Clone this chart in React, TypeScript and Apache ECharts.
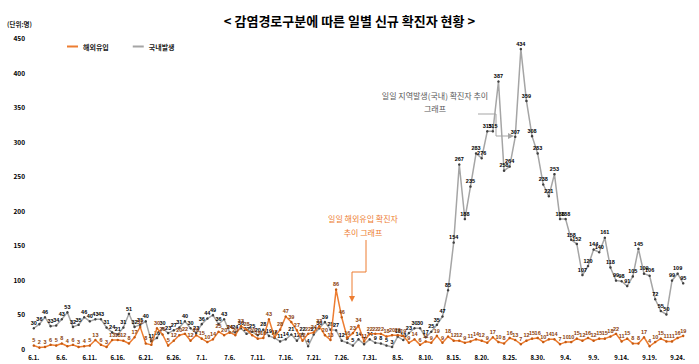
import React, { useEffect, useRef } from "react";
import * as echarts from "echarts";

const FONT = "'Noto Sans CJK KR', 'Liberation Sans', sans-serif";

// month, number of days shown
const months: [number, number][] = [
  [6, 30],
  [7, 31],
  [8, 31],
  [9, 25],
];
const categories: string[] = [];
months.forEach(([m, n]) => {
  for (let d = 1; d <= n; d++) categories.push(`${m}.${d}.`);
});

// 국내발생 (domestic)
const domestic = [
  // June
  30, 36, 46, 33, 34, 43, 53, 32, 35, 46, 40, 43, 43, 31, 24, 21, 31, 51, 32, 35,
  40, 11, 16, 30, 23, 27, 31, 40, 30, 23,
  // July
  36, 44, 49, 36, 43, 24, 24, 30, 22, 25, 20, 28, 19, 16, 11, 14, 21, 12, 22, 4,
  21, 30, 39, 28, 27, 12, 9, 5, 14, 7, 14,
  // August
  9, 8, 5, 3, 18, 13, 23, 30, 30, 17, 25, 35, 47, 85, 154, 267, 188, 235, 283, 276,
  315, 315, 387, 258, 264, 307, 434, 359, 308, 283, 238,
  // September
  221, 253, 188, 188, 158, 152, 107, 120, 144, 140, 161, 118, 99, 98, 91, 105, 145,
  109, 106, 72, 55, 50, 99, 109, 95,
];

// 해외유입 (imported)
const imported = [
  // June
  5, 2, 3, 6, 5, 8, 4, 6, 3, 4, 5, 13, 6, 3, 13, 13, 12, 8, 17, 32, 8, 6, 30, 21,
  5, 12, 20, 22, 12, 20,
  // July
  15, 10, 14, 25, 20, 24, 20, 33, 28, 20, 15, 16, 43, 17, 28, 47, 39, 27, 12, 22,
  24, 33, 20, 13, 86, 46, 16, 23, 34, 11, 22,
  // August
  22, 22, 18, 20, 20, 19, 9, 14, 6, 11, 9, 19, 9, 18, 12, 12, 9, 11, 14, 12, 9, 17,
  10, 8, 16, 13, 7, 12, 15, 16, 10,
  // September
  14, 14, 7, 10, 10, 15, 12, 16, 12, 15, 15, 18, 22, 11, 15, 8, 8, 17, 4, 10, 15,
  11, 11, 16, 19,
];

const ORANGE = "#ed7d31";
const GRAY = "#a5a5a5";

export default function App() {
  const ref = useRef<HTMLDivElement>(null);
  useEffect(() => {
    if (!ref.current) return;
    const chart = echarts.init(ref.current, undefined, { renderer: "svg" });
    chart.setOption({
      animation: false,
      backgroundColor: "#ffffff",
      textStyle: { fontFamily: FONT },
      title: {
        text: "< 감염경로구분에 따른 일별 신규 확진자 현황 >",
        left: "center",
        top: 9,
        textStyle: { fontSize: 13, fontWeight: "bold", color: "#000", fontFamily: FONT },
      },
      legend: {
        left: 62,
        top: 38,
        icon: "rect",
        itemWidth: 11,
        itemHeight: 2,
        itemGap: 24,
        textStyle: { fontSize: 7, color: "#222", fontWeight: "bold", fontFamily: FONT },
        data: [
          { name: "해외유입", itemStyle: { color: ORANGE } },
          { name: "국내발생", itemStyle: { color: GRAY } },
        ],
      },
      grid: { left: 31, right: 13, top: 38, bottom: 15 },
      xAxis: {
        type: "category",
        data: categories,
        boundaryGap: true,
        axisLine: { show: false },
        axisTick: { show: false },
        axisLabel: {
          interval: 4,
          fontSize: 6,
          fontWeight: "bold",
          color: "#000",
          margin: 5,
          fontFamily: FONT,
        },
      },
      yAxis: {
        type: "value",
        min: 0,
        max: 450,
        interval: 50,
        splitLine: { show: false },
        axisLine: { show: false },
        axisTick: { show: false },
        axisLabel: { fontSize: 6.5, fontWeight: "bold", color: "#000", margin: 6, fontFamily: FONT },
      },
      series: [
        {
          name: "국내발생",
          type: "line",
          data: domestic,
          symbol: "circle",
          symbolSize: 2.5,
          lineStyle: { color: GRAY, width: 1.5 },
          itemStyle: { color: "#404040" },
          label: {
            show: true,
            position: "top",
            distance: 1,
            fontSize: 5.5,
            fontWeight: "bold",
            color: "#000",
            fontFamily: "'Liberation Sans', sans-serif",
          },
          labelLayout: { moveOverlap: "shiftY" },
          z: 2,
        },
        {
          name: "해외유입",
          type: "line",
          data: imported,
          symbol: "circle",
          symbolSize: 2.5,
          lineStyle: { color: ORANGE, width: 1.5 },
          itemStyle: { color: "#c55a11" },
          label: {
            show: true,
            position: "top",
            distance: 1,
            fontSize: 5.5,
            fontWeight: "bold",
            color: "#8a3d0a",
            fontFamily: "'Liberation Sans', sans-serif",
          },
          labelLayout: { moveOverlap: "shiftY" },
          z: 3,
        },
      ],
      graphic: [
        {
          type: "text",
          left: 7,
          top: 21,
          style: { text: "(단위:명)", fill: "#222", font: `bold 6.5px ${FONT}` },
        },
        {
          type: "text",
          x: 435,
          y: 102,
          style: {
            text: "일일 지역발생(국내) 확진자 추이\n그래프",
            font: `8px ${FONT}`,
            fill: "#595959",
            align: "center",
            verticalAlign: "middle",
            lineHeight: 13,
          },
        },
        {
          type: "polyline",
          shape: { points: [[478, 114], [496, 114], [496, 136], [509, 136]] },
          style: { stroke: GRAY, lineWidth: 1, fill: "none" },
        },
        {
          type: "polygon",
          shape: { points: [[514, 136], [508, 133], [508, 139]] },
          style: { fill: GRAY },
        },
        {
          type: "text",
          x: 363,
          y: 225,
          style: {
            text: "일일 해외유입 확진자\n추이 그래프",
            font: `8px ${FONT}`,
            fill: ORANGE,
            align: "center",
            verticalAlign: "middle",
            lineHeight: 14,
          },
        },
        {
          type: "polyline",
          shape: { points: [[366, 240], [366, 272], [352, 272], [352, 297]] },
          style: { stroke: ORANGE, lineWidth: 1, fill: "none" },
        },
        {
          type: "polygon",
          shape: { points: [[352, 302], [349, 296], [355, 296]] },
          style: { fill: ORANGE },
        },
      ],
    });
    return () => chart.dispose();
  }, []);
  return (
    <div
      ref={ref}
      style={{ position: "fixed", left: 0, top: 0, width: 699, height: 364, background: "#fff" }}
    />
  );
}
